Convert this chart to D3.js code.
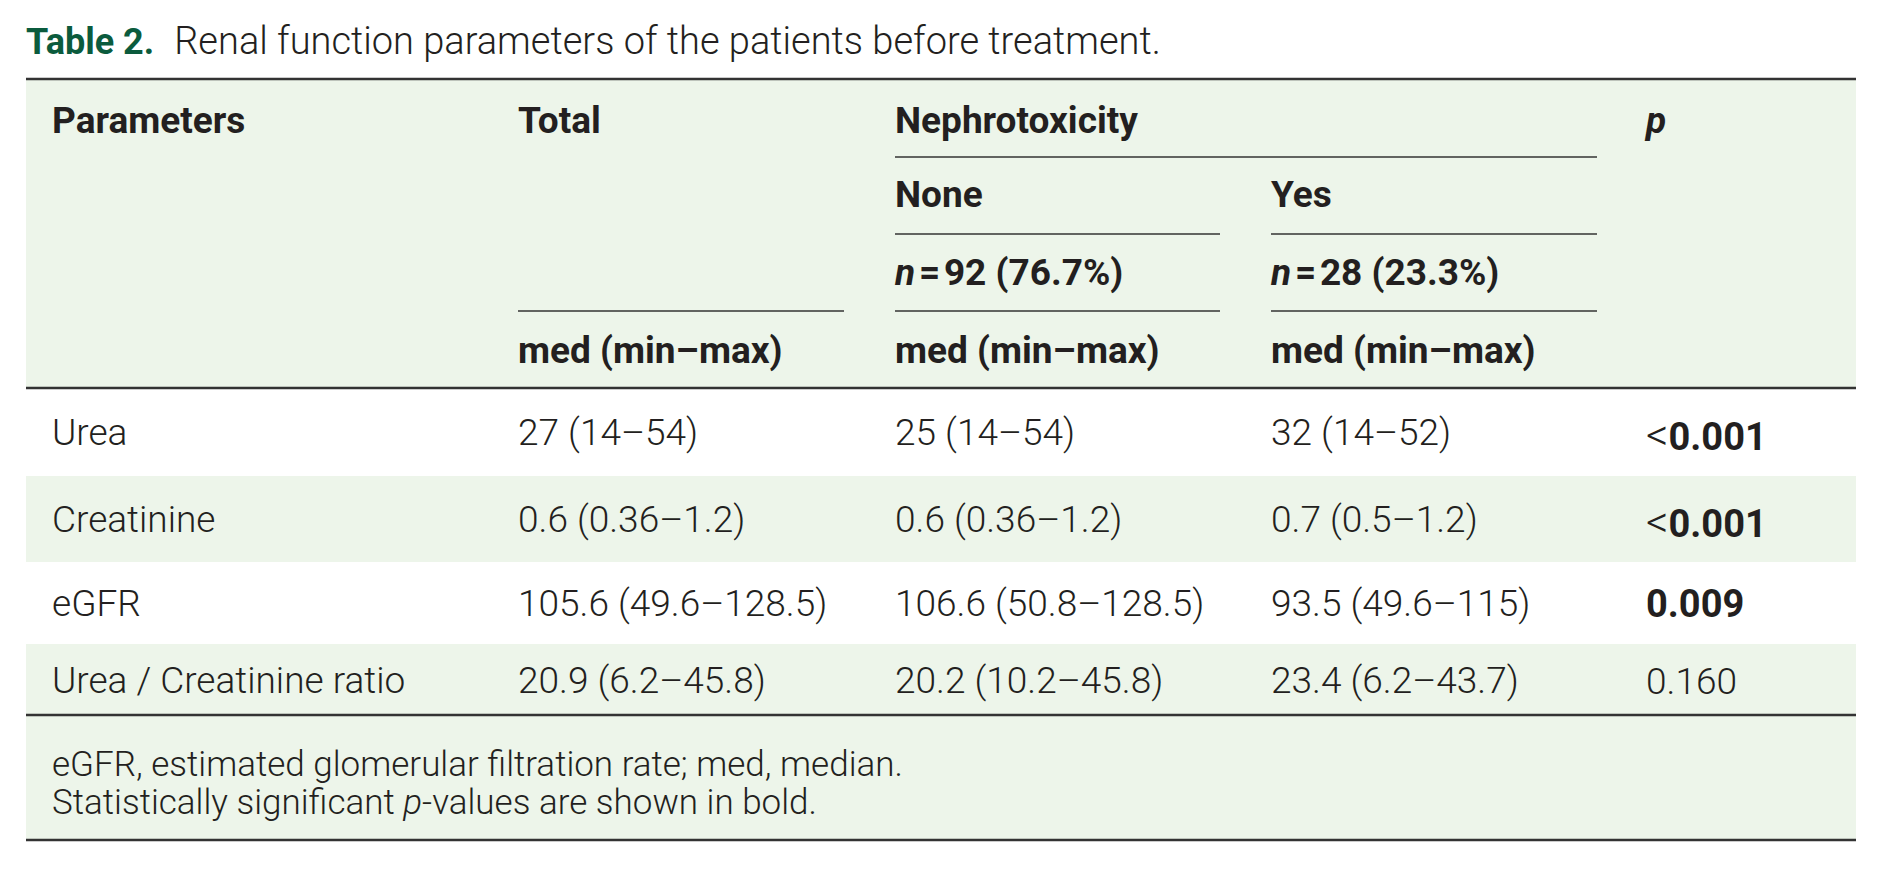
<!DOCTYPE html>
<html>
<head>
<meta charset="utf-8">
<script src="https://cdn.jsdelivr.net/npm/d3@7"></script>
<style>
  html, body { margin: 0; padding: 0; background: #fff; }
  svg text { font-family: Roboto, "Noto Sans", sans-serif; fill: #231f20; }
</style>
</head>
<body>
<script>
// table content
const parameters = ["Urea", "Creatinine", "eGFR", "Urea / Creatinine ratio"];
const totalValues = ["27 (14–54)", "0.6 (0.36–1.2)", "105.6 (49.6–128.5)", "20.9 (6.2–45.8)"];
const noneValues = ["25 (14–54)", "0.6 (0.36–1.2)", "106.6 (50.8–128.5)", "20.2 (10.2–45.8)"];
const yesValues = ["32 (14–52)", "0.7 (0.5–1.2)", "93.5 (49.6–115)", "23.4 (6.2–43.7)"];
const pValues = ["<0.001", "<0.001", "0.009", "0.160"];
const pSignificant = [true, true, true, false];

const columns = ["param", "total", "none", "yes", "p"];
const groupCounts = { none: "92 (76.7%)", yes: "28 (23.3%)" };
const footnotes = [
  [{ t: "eGFR, estimated glomerular filtration rate; med, median." }],
  [{ t: "Statistically significant " }, { t: "p", i: true }, { t: "-values are shown in bold." }]
];

const W = 1882, H = 871;
const left = 26, right = 1856;
const rowHeights = [88, 86, 82, 71];   // body row heights
const headTop = 79, headBottom = 388, footBottom = 840;

const svg = d3.select("body").append("svg")
  .attr("width", W)
  .attr("height", H);

const x = d3.scaleOrdinal()
  .domain(columns)
  .range([52, 518, 895, 1271, 1646]);

// row edges from the heights
const edges = [headBottom, ...d3.cumsum(rowHeights).map(d => d + headBottom)];
const rowTop = (d, i) => edges[i];
const rowMid = (d, i) => (edges[i] + edges[i + 1]) / 2;
const bodyBottom = edges[edges.length - 1];

const green = "#edf5ea";
const rule = "#333333";

// backgrounds
svg.append("rect").attr("x", left).attr("y", headTop)
  .attr("width", right - left).attr("height", headBottom - headTop).attr("fill", green);
svg.append("g").selectAll("rect")
  .data(parameters)
  .join("rect")
  .attr("x", left)
  .attr("y", rowTop)
  .attr("width", right - left)
  .attr("height", (d, i) => edges[i + 1] - edges[i])
  .attr("fill", (d, i) => i % 2 === 1 ? green : "#fff");
svg.append("rect").attr("x", left).attr("y", bodyBottom)
  .attr("width", right - left).attr("height", footBottom - bodyBottom).attr("fill", green);

// title
const title = svg.append("text").attr("x", left).attr("y", 54);
title.append("tspan").attr("font-size", 36).attr("font-weight", 700).style("fill", "#0b5b3d").text("Table 2.");
title.append("tspan").attr("dx", 20).attr("font-size", 38).attr("font-weight", 300)
  .text("Renal function parameters of the patients before treatment.");

// main rules
[headTop, headBottom, bodyBottom, footBottom].forEach(yy => {
  svg.append("line")
    .attr("x1", left).attr("x2", right)
    .attr("y1", yy).attr("y2", yy)
    .attr("stroke", rule).attr("stroke-width", 2.5);
});

// header
const head = svg.append("g").attr("font-size", 37).attr("font-weight", 700);
const hb = [133, 207, 285, 363]; // header baselines
head.append("text").attr("x", x("param")).attr("y", hb[0]).text("Parameters");
head.append("text").attr("x", x("total")).attr("y", hb[0]).text("Total");
head.append("text").attr("x", x("none")).attr("y", hb[0]).text("Nephrotoxicity");
head.append("text").attr("x", x("p")).attr("y", hb[0]).attr("font-style", "italic").text("p");
head.append("text").attr("x", x("none")).attr("y", hb[1]).text("None");
head.append("text").attr("x", x("yes")).attr("y", hb[1]).text("Yes");
["none", "yes"].forEach(k => {
  const t = head.append("text").attr("x", x(k)).attr("y", hb[2]);
  t.append("tspan").attr("font-style", "italic").text("n");
  t.append("tspan").text("\u200a=\u200a" + groupCounts[k]);
});
["total", "none", "yes"].forEach(k => {
  head.append("text").attr("x", x(k)).attr("y", hb[3]).text("med (min–max)");
});

// header sub-rules
const subLines = [
  { y: 157, a: "none", b: 1597 },
  { y: 234, a: "none", b: 1220 },
  { y: 234, a: "yes", b: 1597 },
  { y: 311, a: "total", b: 844 },
  { y: 311, a: "none", b: 1220 },
  { y: 311, a: "yes", b: 1597 }
];
svg.append("g").selectAll("line")
  .data(subLines)
  .join("line")
  .attr("x1", d => x(d.a)).attr("x2", d => d.b)
  .attr("y1", d => d.y).attr("y2", d => d.y)
  .attr("stroke", rule).attr("stroke-width", 1.6);

// body
const body = svg.append("g").attr("font-size", 37).attr("font-weight", 300);
const cols = [
  ["param", parameters],
  ["total", totalValues],
  ["none", noneValues],
  ["yes", yesValues]
];
cols.forEach(([k, vals]) => {
  body.append("g").selectAll("text")
    .data(vals)
    .join("text")
    .attr("x", x(k))
    .attr("y", (d, i) => rowMid(d, i) + 13)
    .text(d => d);
});
const pText = body.append("g").selectAll("text")
  .data(pValues)
  .join("text")
  .attr("x", x("p"))
  .attr("y", (d, i) => rowMid(d, i) + (d.startsWith("<") ? 18 : 14));
pText.each(function (d, i) {
  const t = d3.select(this);
  if (d.startsWith("<")) {
    t.append("tspan").attr("font-size", 44).attr("font-weight", 300).text("<");
    t.append("tspan").attr("font-size", 38).attr("font-weight", 700).text(d.slice(1));
  } else {
    t.append("tspan").attr("font-size", pSignificant[i] ? 38 : 37)
      .attr("font-weight", pSignificant[i] ? 700 : 300).text(d);
  }
});

// footnotes
const foot = svg.append("g").attr("font-size", 35).attr("font-weight", 300);
footnotes.forEach((parts, i) => {
  const t = foot.append("text").attr("x", x("param")).attr("y", 776 + i * 38);
  parts.forEach(p => t.append("tspan").attr("font-style", p.i ? "italic" : null).text(p.t));
});
</script>
</body>
</html>
